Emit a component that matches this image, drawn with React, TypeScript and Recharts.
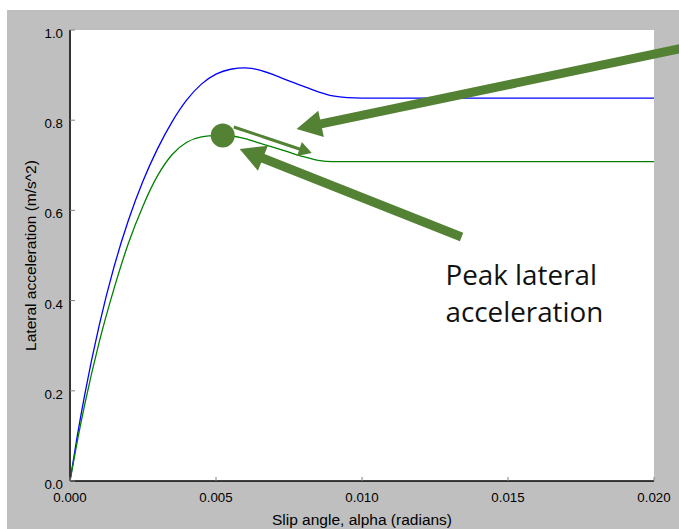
import React from 'react';
import { LineChart, Line, XAxis, YAxis, ReferenceLine, ReferenceDot, CartesianGrid } from 'recharts';

// Slip angle (radians)
const alpha = [0, 0.00025, 0.0005, 0.001, 0.0015, 0.002, 0.0025, 0.003, 0.0035, 0.004, 0.0045, 0.005, 0.0055, 0.006, 0.0065, 0.007, 0.0075, 0.008, 0.0085, 0.009, 0.0095, 0.01, 0.0105, 0.02];
// Lateral acceleration, blue curve
const blueAccel = [0, 0.1, 0.19, 0.345, 0.473, 0.578, 0.665, 0.737, 0.797, 0.845, 0.88, 0.902, 0.913, 0.916, 0.911, 0.9, 0.887, 0.875, 0.863, 0.854, 0.85, 0.849, 0.849, 0.849];
// Lateral acceleration, green curve
const greenAccel = [0, 0.088, 0.168, 0.308, 0.425, 0.527, 0.61, 0.677, 0.724, 0.751, 0.763, 0.766, 0.765, 0.759, 0.749, 0.739, 0.729, 0.719, 0.711, 0.708, 0.708, 0.708, 0.708, 0.708];

const xTicks = [0, 0.005, 0.01, 0.015, 0.02];
const yTicks = [0, 0.2, 0.4, 0.6, 0.8, 1.0];

// Annotations (data coordinates)
const peakPoint = { x: 0.00523, y: 0.766 };
const smallArrow = [{ x: 0.00561, y: 0.785 }, { x: 0.00828, y: 0.727 }];
const arrowTop = [{ x: 0.0213, y: 0.964 }, { x: 0.00776, y: 0.7805 }];
const arrowBottom = [{ x: 0.01341, y: 0.541 }, { x: 0.00581, y: 0.736 }];
const noteAnchor = { x: 0.01286, y: 0.4346 };
const noteLines = ['Peak lateral', 'acceleration'];

const xLabel = 'Slip angle, alpha (radians)';
const yLabel = 'Lateral acceleration (m/s^2)';

const ANNOT = '#548235';
const FONT = '"Liberation Sans", Arial, Helvetica, sans-serif';

const rows = alpha.map((a, i) => ({ alpha: a, blue: blueAccel[i], green: greenAccel[i] }));

const TICK_COLOR = '#808080';

const BottomTick = (p: any) => (
  <g>
    <line x1={p.x} x2={p.x} y1={p.y} y2={p.y - 4} stroke={TICK_COLOR} strokeWidth={1} />
    <text x={p.x} y={p.y + 21} textAnchor="middle" fontSize={13.3} fontFamily={FONT} fill="#000">
      {Number(p.payload.value).toFixed(3)}
    </text>
  </g>
);
const TopTick = (p: any) => (
  <line x1={p.x} x2={p.x} y1={p.y} y2={p.y + 4} stroke={TICK_COLOR} strokeWidth={1} />
);
const LeftTick = (p: any) => (
  <g>
    <line x1={p.x} x2={p.x + 5} y1={p.y} y2={p.y} stroke={TICK_COLOR} strokeWidth={1} />
    <text x={p.x - 7} y={p.y + 8} textAnchor="end" fontSize={13.3} fontFamily={FONT} fill="#000">
      {Number(p.payload.value).toFixed(1)}
    </text>
  </g>
);
const RightTick = (p: any) => (
  <line x1={p.x} x2={p.x - 5} y1={p.y} y2={p.y} stroke={TICK_COLOR} strokeWidth={1} />
);

const makeArrow = (shaft: number, headLen: number, headW: number) => (props: any) => {
  const { x1, y1, x2, y2 } = props;
  if ([x1, y1, x2, y2].some((v) => typeof v !== 'number' || isNaN(v))) return null;
  const dx = x2 - x1;
  const dy = y2 - y1;
  const len = Math.hypot(dx, dy);
  const ux = dx / len;
  const uy = dy / len;
  const nx = -uy;
  const ny = ux;
  const bx = x2 - ux * headLen;
  const by = y2 - uy * headLen;
  const pts = [
    [x1 + (nx * shaft) / 2, y1 + (ny * shaft) / 2],
    [bx + (nx * shaft) / 2, by + (ny * shaft) / 2],
    [bx + (nx * headW) / 2, by + (ny * headW) / 2],
    [x2, y2],
    [bx - (nx * headW) / 2, by - (ny * headW) / 2],
    [bx - (nx * shaft) / 2, by - (ny * shaft) / 2],
    [x1 - (nx * shaft) / 2, y1 - (ny * shaft) / 2],
  ];
  return <polygon points={pts.map((q) => q.join(',')).join(' ')} fill={ANNOT} stroke="none" />;
};

const NoteShape = (p: any) => (
  <text x={p.cx} y={p.cy} fontSize={27.8} fontFamily='"Open Sans", sans-serif' fill="#111">
    {noteLines.map((t, i) => (
      <tspan key={i} x={p.cx} dy={i === 0 ? 0 : 37}>
        {t}
      </tspan>
    ))}
  </text>
);

export default function App() {
  return (
    <div style={{ position: 'fixed', left: 7, top: 10, width: 672, height: 519, background: '#bfbfbf' }}>
      <LineChart width={672} height={519} data={rows} margin={{ top: 20, right: 25, bottom: 0, left: 0 }}>
        <XAxis
          xAxisId="b"
          dataKey="alpha"
          type="number"
          domain={[0, 0.02]}
          ticks={xTicks}
          interval={0}
          orientation="bottom"
          height={48}
          tickSize={0}
          tickMargin={0}
          tickLine={false}
          axisLine={{ stroke: '#000', strokeWidth: 1.3 }}
          tick={BottomTick}
          label={{
            content: (lp: any) => {
              const vb = lp.viewBox || {};
              return (
                <text x={vb.x + vb.width / 2} y={vb.y + 44} textAnchor="middle" fontSize={15.5} fontFamily={FONT} fill="#000">
                  {xLabel}
                </text>
              );
            },
          }}
        />
        <XAxis
          xAxisId="t"
          dataKey="alpha"
          type="number"
          domain={[0, 0.02]}
          ticks={xTicks}
          interval={0}
          orientation="top"
          height={0}
          tickSize={0}
          tickMargin={0}
          tickLine={false}
          axisLine={{ stroke: '#000', strokeWidth: 1.3 }}
          tick={TopTick}
        />
        <YAxis
          yAxisId="l"
          type="number"
          domain={[0, 1]}
          ticks={yTicks}
          interval={0}
          orientation="left"
          width={63}
          tickSize={0}
          tickMargin={0}
          tickLine={false}
          axisLine={{ stroke: '#333', strokeWidth: 2 }}
          tick={LeftTick}
          label={{
            content: (lp: any) => {
              const vb = lp.viewBox || {};
              const cx = 29;
              const cy = vb.y + vb.height / 2;
              return (
                <text
                  x={cx}
                  y={cy}
                  transform={`rotate(-90, ${cx}, ${cy})`}
                  textAnchor="middle"
                  fontSize={15.5}
                  fontFamily={FONT}
                  fill="#000"
                >
                  {yLabel}
                </text>
              );
            },
          }}
        />
        <YAxis
          yAxisId="r"
          type="number"
          domain={[0, 1]}
          ticks={yTicks}
          interval={0}
          orientation="right"
          width={0}
          tickSize={0}
          tickMargin={0}
          tickLine={false}
          axisLine={{ stroke: '#000', strokeWidth: 1.3 }}
          tick={RightTick}
        />
        <CartesianGrid xAxisId="b" yAxisId="l" fill="#ffffff" horizontal={false} vertical={false} />
        <Line
          xAxisId="b"
          yAxisId="l"
          dataKey="blue"
          type="monotone"
          stroke="#0000ff"
          strokeWidth={1.3}
          dot={false}
          isAnimationActive={false}
        />
        <Line
          xAxisId="b"
          yAxisId="l"
          dataKey="green"
          type="monotone"
          stroke="#008000"
          strokeWidth={1.3}
          dot={false}
          isAnimationActive={false}
        />
        <ReferenceDot xAxisId="b" yAxisId="l" x={peakPoint.x} y={peakPoint.y} r={12} fill={ANNOT} stroke="none" ifOverflow="visible" />
        <ReferenceLine xAxisId="b" yAxisId="l" segment={smallArrow} ifOverflow="visible" shape={makeArrow(3, 13, 15)} />
        <ReferenceLine xAxisId="b" yAxisId="l" segment={arrowTop} ifOverflow="visible" shape={makeArrow(9, 25, 27)} />
        <ReferenceLine xAxisId="b" yAxisId="l" segment={arrowBottom} ifOverflow="visible" shape={makeArrow(9, 25, 27)} />
        <ReferenceDot xAxisId="b" yAxisId="l" x={noteAnchor.x} y={noteAnchor.y} r={0} ifOverflow="visible" shape={NoteShape} />
      </LineChart>
    </div>
  );
}
